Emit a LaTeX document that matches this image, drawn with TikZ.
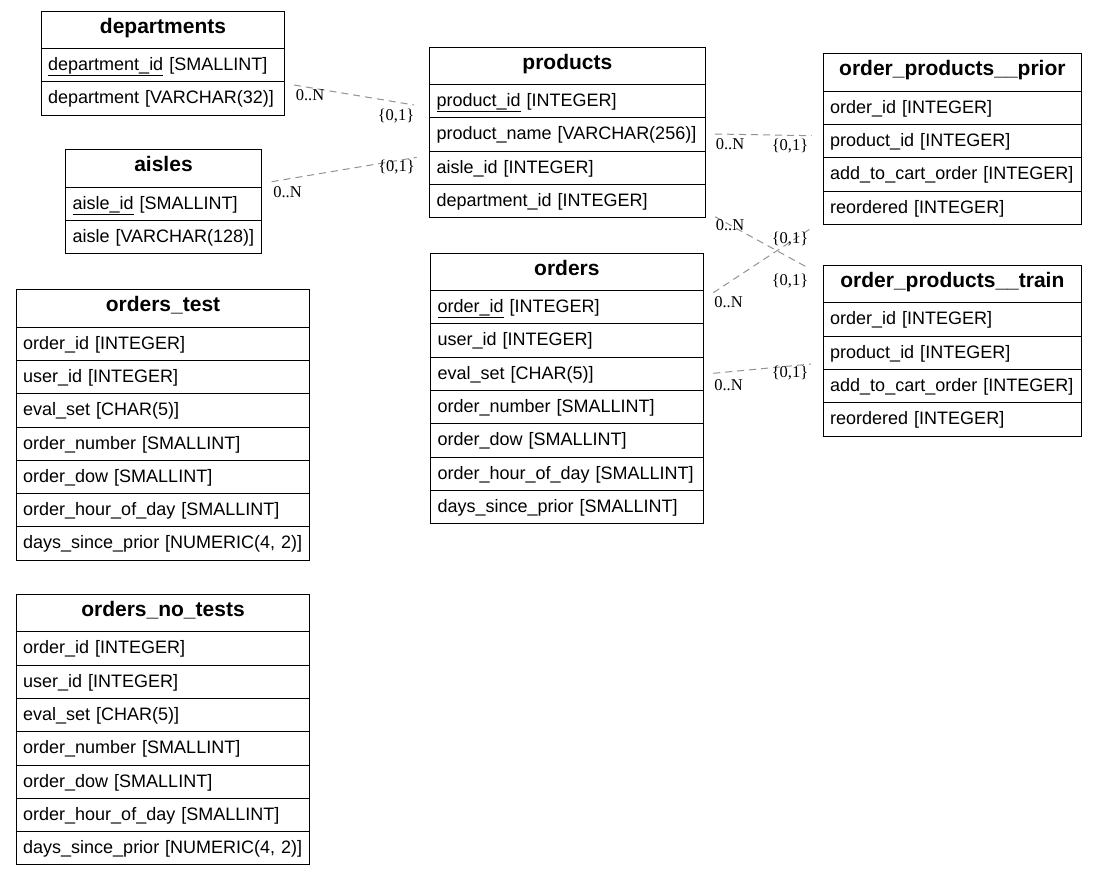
\documentclass[tikz,border=0pt]{standalone}
\usepackage{fontspec}
\setmainfont{Liberation Sans}
\newfontfamily\cardfont{Liberation Serif}
\usepackage{tikz}

\begin{document}
\begin{tikzpicture}[x=1pt, y=-1pt,
    tblhead/.style={draw, line width=1pt, anchor=north west, inner xsep=7pt, inner ysep=0pt,
      align=center, minimum height=37.3pt, text height=15pt, text depth=8pt,
      font=\bfseries\fontsize{21}{24}\selectfont, text width=#1},
    tblrow/.style={draw, line width=1pt, anchor=north west, inner xsep=7pt, inner ysep=0pt,
      align=left, minimum height=33.3pt, text height=13pt, text depth=2.3pt,
      font=\fontsize{18}{21}\selectfont, text width=#1},
    card/.style={inner sep=0pt, text height=11pt, text depth=0pt,
      font=\cardfont\fontsize{16.5}{18}\selectfont},
    rel/.style={draw=gray!85, line width=1pt, dash pattern=on 7pt off 5pt}]
    \path[fill=white, use as bounding box] (0,0) rectangle (1097,875);

    % departments
    \node[tblhead=229.6pt] (departments) at (40.7,10.7) {departments};
    \foreach \f [count=\i] in {\underline{department\_id} [SMALLINT], department [VARCHAR(32)]}
        \node[tblrow=229.6pt] (departments-\i) at (40.7,{48+33.3*(\i-1)}) {\f};

    % aisles
    \node[tblhead=182pt] (aisles) at (65,149.3) {aisles};
    \foreach \f [count=\i] in {\underline{aisle\_id} [SMALLINT], aisle [VARCHAR(128)]}
        \node[tblrow=182pt] (aisles-\i) at (65,{186.6+33.3*(\i-1)}) {\f};

    % products
    \node[tblhead=261.7pt] (products) at (429,46.7) {products};
    \foreach \f [count=\i] in {\underline{product\_id} [INTEGER], product\_name [VARCHAR(256)],
        aisle\_id [INTEGER], department\_id [INTEGER]}
        \node[tblrow=261.7pt] (products-\i) at (429,{84+33.3*(\i-1)}) {\f};

    % orders
    \node[tblhead=258.7pt] (orders) at (430,252.7) {orders};
    \foreach \f [count=\i] in {\underline{order\_id} [INTEGER], user\_id [INTEGER], eval\_set [CHAR(5)],
        order\_number [SMALLINT], order\_dow [SMALLINT], order\_hour\_of\_day [SMALLINT],
        days\_since\_prior [SMALLINT]}
        \node[tblrow=258.7pt] (orders-\i) at (430,{290+33.3*(\i-1)}) {\f};

    % order_products__prior
    \node[tblhead=244.3pt] (prior) at (822.7,53.3) {order\_products\_\_prior};
    \foreach \f [count=\i] in {order\_id [INTEGER], product\_id [INTEGER],
        add\_to\_cart\_order [INTEGER], reordered [INTEGER]}
        \node[tblrow=244.3pt] (prior-\i) at (822.7,{90.6+33.3*(\i-1)}) {\f};

    % order_products__train
    \node[tblhead=244.3pt] (train) at (822.7,265) {order\_products\_\_train};
    \foreach \f [count=\i] in {order\_id [INTEGER], product\_id [INTEGER],
        add\_to\_cart\_order [INTEGER], reordered [INTEGER]}
        \node[tblrow=244.3pt] (train-\i) at (822.7,{302.3+33.3*(\i-1)}) {\f};

    % orders_test
    \node[tblhead=279.6pt] (ordtest) at (15.7,289.3) {orders\_test};
    \foreach \f [count=\i] in {order\_id [INTEGER], user\_id [INTEGER], eval\_set [CHAR(5)],
        order\_number [SMALLINT], order\_dow [SMALLINT], order\_hour\_of\_day [SMALLINT],
        {days\_since\_prior [NUMERIC(4, 2)]}}
        \node[tblrow=279.6pt] (ordtest-\i) at (15.7,{326.6+33.3*(\i-1)}) {\f};

    % orders_no_tests
    \node[tblhead=279.6pt] (ordnotest) at (15.7,594) {orders\_no\_tests};
    \foreach \f [count=\i] in {order\_id [INTEGER], user\_id [INTEGER], eval\_set [CHAR(5)],
        order\_number [SMALLINT], order\_dow [SMALLINT], order\_hour\_of\_day [SMALLINT],
        {days\_since\_prior [NUMERIC(4, 2)]}}
        \node[tblrow=279.6pt] (ordnotest-\i) at (15.7,{631.3+33.3*(\i-1)}) {\f};

    % connector ends
    \coordinate (dep-a) at (294,85);
    \coordinate (prod-a) at (414,105);
    \coordinate (aisle-a) at (271.7,181.7);
    \coordinate (prod-b) at (416.7,157.3);
    \coordinate (prod-c) at (715,134);
    \coordinate (prior-a) at (811.7,135.7);
    \coordinate (prod-d) at (715,216.7);
    \coordinate (train-a) at (806,266.7);
    \coordinate (ord-a) at (713.3,292.7);
    \coordinate (prior-b) at (811,228.3);
    \coordinate (ord-b) at (713.3,373.3);
    \coordinate (train-b) at (811,364);

    \draw[rel] (dep-a) -- (prod-a);
    \draw[rel] (aisle-a) -- (prod-b);
    \draw[rel] (prod-c) -- (prior-a);
    \draw[rel] (prod-d) -- (train-a);
    \draw[rel] (ord-a) -- (prior-b);
    \draw[rel] (ord-b) -- (train-b);

    % cardinalities
    \node[card] (dep-n) at (310,94.5) {0..N};
    \node[card] (prod-o1) at (396,115) {\{0,1\}};
    \node[card] (aisle-n) at (287.5,192) {0..N};
    \node[card] (prod-o2) at (396.5,166) {\{0,1\}};
    \node[card] (prod-n1) at (730,144) {0..N};
    \node[card] (prior-o1) at (790,145) {\{0,1\}};
    \node[card] (prod-n2) at (730,225) {0..N};
    \node[card] (train-o1) at (790,280) {\{0,1\}};
    \node[card] (ord-n1) at (728.5,302) {0..N};
    \node[card] (prior-o2) at (790,238) {\{0,1\}};
    \node[card] (ord-n2) at (728.5,385) {0..N};
    \node[card] (train-o2) at (790,372) {\{0,1\}};
\end{tikzpicture}
\end{document}
